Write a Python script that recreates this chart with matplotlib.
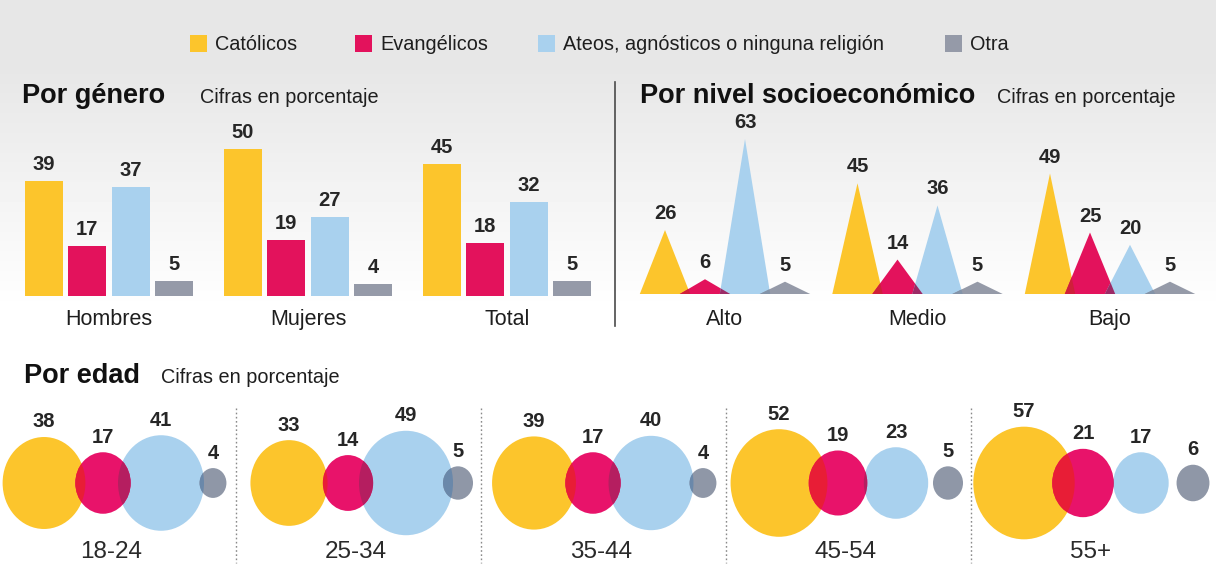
import numpy as np
import matplotlib
matplotlib.use("Agg")
import matplotlib.pyplot as plt
from matplotlib.patches import Rectangle, Polygon, Ellipse

plt.rcParams["font.family"] = ["Liberation Sans", "DejaVu Sans"]

# ---- data (percentages) ----
series = ["Católicos", "Evangélicos", "Ateos, agnósticos o ninguna religión", "Otra"]
colors = ["#fcc52c", "#e3125c", "#a9d1ee", "#959aa8"]

gender_groups = ["Hombres", "Mujeres", "Total"]
gender_catolicos = [39, 50, 45]
gender_evangelicos = [17, 19, 18]
gender_ateos = [37, 27, 32]
gender_otra = [5, 4, 5]

nse_groups = ["Alto", "Medio", "Bajo"]
nse_catolicos = [26, 45, 49]
nse_evangelicos = [6, 14, 25]
nse_ateos = [63, 36, 20]
nse_otra = [5, 5, 5]

age_groups = ["18-24", "25-34", "35-44", "45-54", "55+"]
age_catolicos = [38, 33, 39, 52, 57]
age_evangelicos = [17, 14, 17, 19, 21]
age_ateos = [41, 49, 40, 23, 17]
age_otra = [4, 5, 4, 5, 6]

W, H = 1216, 578
TXT = "#1e1e1e"


def frac_box(x0, x1, ytop, ybot):
    # pixel box -> figure fraction [l, b, w, h]
    return [x0 / W, 1 - ybot / H, (x1 - x0) / W, (ybot - ytop) / H]


fig = plt.figure(figsize=(W / 100, H / 100), dpi=100)

# background with the grey fade at the top
ax_bg = fig.add_axes([0, 0, 1, 1])
ax_bg.set_xlim(0, W)
ax_bg.set_ylim(H, 0)
ax_bg.axis("off")
rows = np.arange(H)
shade = 0.905 + 0.095 * np.clip((rows - 70) / 240, 0, 1)
ax_bg.imshow(shade[:, None], extent=[0, W, H, 0], aspect="auto",
             cmap="gray", vmin=0, vmax=1, zorder=0)

# legend
leg_x = [190, 355, 538, 945]
for name, c, lx in zip(series, colors, leg_x):
    ax_bg.add_patch(Rectangle((lx, 35), 17, 17, facecolor=c, edgecolor="none", zorder=2))
    ax_bg.text(lx + 25, 44, name, fontsize=14.3, color=TXT, va="center", ha="left")

# section titles
ax_bg.text(22, 103, "Por género", fontsize=19.5, fontweight="bold", color="#111", va="baseline")
ax_bg.text(200, 103, "Cifras en porcentaje", fontsize=14.3, color=TXT, va="baseline")
ax_bg.text(640, 103, "Por nivel socioeconómico", fontsize=19.5, fontweight="bold", color="#111", va="baseline")
ax_bg.text(997, 103, "Cifras en porcentaje", fontsize=14.3, color=TXT, va="baseline")
ax_bg.text(24, 383, "Por edad", fontsize=19.5, fontweight="bold", color="#111", va="baseline")
ax_bg.text(161, 383, "Cifras en porcentaje", fontsize=14.3, color=TXT, va="baseline")
ax_bg.plot([615, 615], [82, 326], color="#4a4a4a", lw=1.2, zorder=2)

num_kw = dict(fontsize=14.5, fontweight="bold", color="#262626", ha="center", va="bottom",
              textcoords="offset points")

# ---- bars: por género ----
BAR_PX = 2.94          # pixels per percentage point
SLOT_PX = 43.3         # pixels between bars
ax_b = fig.add_axes(frac_box(0, 615, 90, 296))
ax_b.set_ylim(0, 206 / BAR_PX)
ax_b.set_xlim(-44 / SLOT_PX, (615 - 44) / SLOT_PX)
ax_b.axis("off")
g_step = 199 / SLOT_PX
g_vals = [gender_catolicos, gender_evangelicos, gender_ateos, gender_otra]
for i, vals in enumerate(g_vals):
    xs = np.arange(len(gender_groups)) * g_step + i
    ax_b.bar(xs, vals, width=0.88, color=colors[i], zorder=3)
    for x, v in zip(xs, vals):
        ax_b.annotate(str(v), (x, v), xytext=(0, 5), **num_kw)
for gi, name in enumerate(gender_groups):
    ax_b.annotate(name, (gi * g_step + 1.5, 0), xytext=(0, -21), textcoords="offset points",
                  ha="center", va="baseline", fontsize=15.5, color=TXT)

# ---- triangles: por nivel socioeconómico ----
TRI_PX = 2.46
TSLOT = 40.0
ax_t = fig.add_axes(frac_box(615, 1216, 90, 294))
ax_t.set_ylim(0, 204 / TRI_PX)
ax_t.set_xlim((615 - 665) / TSLOT, (1216 - 665) / TSLOT)
ax_t.axis("off")
t_step = 192.5 / TSLOT
HW = 0.63
t_vals = [nse_catolicos, nse_evangelicos, nse_ateos, nse_otra]
tri_mix = {(0, 1): "#cf1f3a", (1, 2): "#9c2a66", (2, 3): "#8393a8"}


def triangle(x, v, color, z):
    return Polygon([(x - HW, 0), (x, v), (x + HW, 0)], closed=True,
                   facecolor=color, edgecolor="none", zorder=z)


for gi in range(len(nse_groups)):
    patches = []
    for i, vals in enumerate(t_vals):
        x = gi * t_step + i
        p = triangle(x, vals[gi], colors[i], 3 + i)
        ax_t.add_patch(p)
        patches.append((x, vals[gi], p))
        ax_t.annotate(str(vals[gi]), (x, vals[gi]), xytext=(0, 5), **num_kw)
    for (a, b), mix in tri_mix.items():
        xa, va, pa = patches[a]
        xb, vb, pb = patches[b]
        over = triangle(xb, vb, mix, 8)
        ax_t.add_patch(over)
        over.set_clip_path(pa)
    ax_t.annotate(nse_groups[gi], (gi * t_step + 1.5, 0), xytext=(0, -22.3),
                  textcoords="offset points", ha="center", va="baseline",
                  fontsize=15.5, color=TXT)

# ---- circles: por edad (area ~ value) ----
ax_c = fig.add_axes(frac_box(0, W, 395, H))
ax_c.set_xlim(0, W)
ax_c.set_ylim(H, 395)
ax_c.axis("off")
R_K = 7.46
SQUASH = 0.9
CY = 483
slots = [53, 112, 170, 222]
a_vals = [age_catolicos, age_evangelicos, age_ateos, age_otra]
circ_colors = ["#fcc52c", "#e8136a", "#a9d1ee", "#8f97a7"]
circ_mix = {(0, 1): "#e81d36", (2, 1): "#b51e60", (2, 3): "#6a88aa"}
z_order = [3, 6, 4, 5]


def blob(cx, v, color, z):
    r = R_K * np.sqrt(v)
    return Ellipse((cx, CY), 2 * r * SQUASH, 2 * r, facecolor=color, edgecolor="none", zorder=z)


for gi in range(len(age_groups)):
    origin = -9 + gi * 245
    if gi > 0:
        ax_c.plot([origin, origin], [408, 563], color="#8a8a8a", lw=1,
                  linestyle=(0, (1.2, 1.8)), zorder=2)
    made = []
    for i, vals in enumerate(a_vals):
        cx = origin + slots[i]
        e = blob(cx, vals[gi], circ_colors[i], z_order[i])
        ax_c.add_patch(e)
        made.append((cx, vals[gi], e))
        r = R_K * np.sqrt(vals[gi])
        ax_c.annotate(str(vals[gi]), (cx, CY - r), xytext=(0, 4), **num_kw)
    for (a, b), mix in circ_mix.items():
        cxa, va, ea = made[a]
        cxb, vb, eb = made[b]
        over = blob(cxa, va, mix, 8)
        ax_c.add_patch(over)
        over.set_clip_path(eb)
    ax_c.text(origin + 120, 558, age_groups[gi], ha="center", va="baseline",
              fontsize=17.5, color="#2a2a2a")

fig.savefig("out.png", dpi=100)
